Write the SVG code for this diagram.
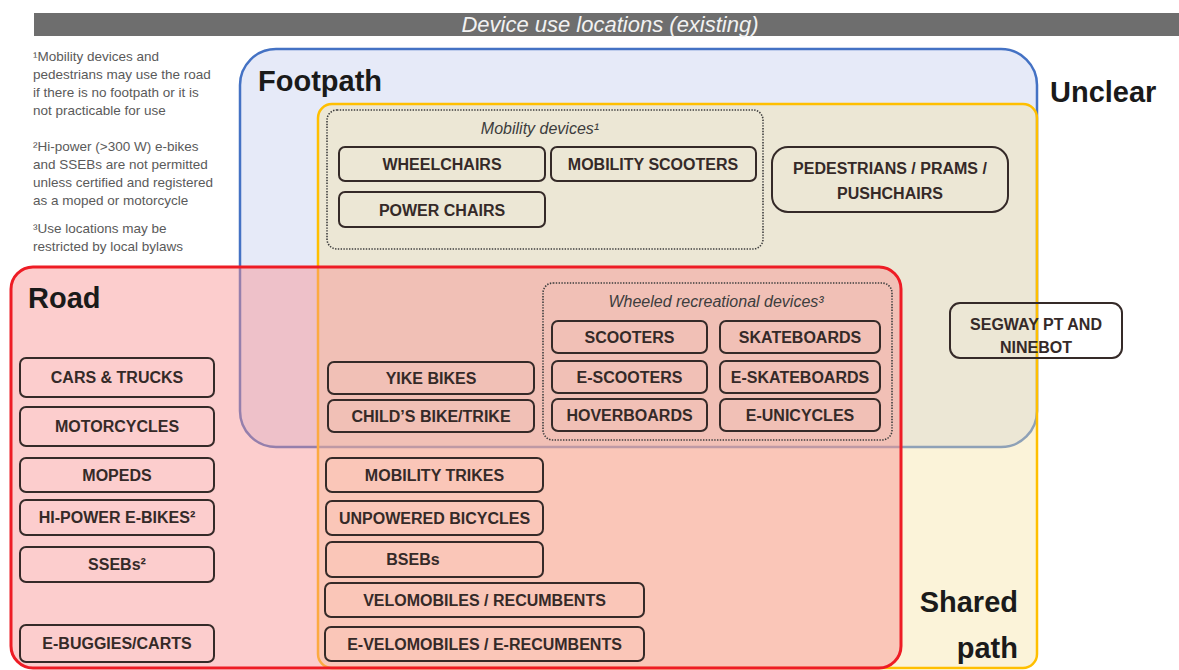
<svg xmlns="http://www.w3.org/2000/svg" width="1179" height="670" viewBox="0 0 1179 670">
<defs>
<style>
.bg{fill:#ffffff}
.hdr{fill:#6e6e6e}
.hdrt{font-family:"Liberation Sans",Arial,sans-serif;font-size:22px;font-style:italic;fill:#f2f2f2;text-anchor:middle}
.note{font-family:"Liberation Sans",Arial,sans-serif;font-size:13.5px;fill:#5a5a5a}
.zone{font-family:"Liberation Sans",Arial,sans-serif;font-size:29px;font-weight:bold;fill:#1a1a1a}
.foot{fill:#c8d0f0;fill-opacity:0.45;stroke:#4472c4;stroke-width:2.5}
.shared{fill:#f6e2a4;fill-opacity:0.42;stroke:#ffbf00;stroke-width:2.5}
.road{fill:#f89090;fill-opacity:0.45;stroke:#ee1c25;stroke-width:3}
.grp{fill:none;stroke:#3d3d3d;stroke-width:1.6;stroke-dasharray:1.4 1.4}
.glab{font-family:"Liberation Sans",Arial,sans-serif;font-size:16px;font-style:italic;fill:#3d3d3d;text-anchor:middle}
.box{fill:none;stroke:#352a28;stroke-width:2}
.lab{font-family:"Liberation Sans",Arial,sans-serif;font-size:16px;font-weight:bold;fill:#352a28;text-anchor:middle}
</style>
</defs>
<rect class="bg" x="0" y="0" width="1179" height="670"/>
<g id="header">
<rect class="hdr" x="34" y="13" width="1145" height="23"/>
<text class="hdrt" x="610" y="32">Device use locations (existing)</text>
</g>
<g id="notes">
<text class="note" x="33" y="61">¹Mobility devices and</text>
<text class="note" x="33" y="79">pedestrians may use the road</text>
<text class="note" x="33" y="97">if there is no footpath or it is</text>
<text class="note" x="33" y="115">not practicable for use</text>
<text class="note" x="33" y="151">²Hi-power (&gt;300 W) e-bikes</text>
<text class="note" x="33" y="169">and SSEBs are not permitted</text>
<text class="note" x="33" y="187">unless certified and registered</text>
<text class="note" x="33" y="205">as a moped or motorcycle</text>
<text class="note" x="33" y="233">³Use locations may be</text>
<text class="note" x="33" y="251">restricted by local bylaws</text>
</g>
<g id="zone-footpath">
<rect class="foot" x="240" y="49" width="797" height="398" rx="36"/>
<text class="zone" x="258" y="91">Footpath</text>
</g>
<g id="zone-shared-path">
<rect class="shared" x="318" y="104" width="719" height="564" rx="14"/>
<text class="zone" x="1018" y="612" text-anchor="end">Shared</text>
<text class="zone" x="1018" y="658" text-anchor="end">path</text>
</g>
<g id="zone-road">
<rect class="road" x="11" y="267" width="890" height="401" rx="22"/>
<text class="zone" x="28" y="308">Road</text>
</g>
<g id="zone-unclear">
<text class="zone" x="1050" y="102">Unclear</text>
</g>
<g id="group-mobility-devices">
<rect class="grp" x="327" y="110" width="436" height="139" rx="10"/>
<text class="glab" x="540" y="134">Mobility devices¹</text>
</g>
<g id="node-wheelchairs"><rect class="box" x="339" y="147" width="206" height="34" rx="6"/><text class="lab" x="442" y="169.5">WHEELCHAIRS</text></g>
<g id="node-mobility-scooters"><rect class="box" x="551" y="147" width="205" height="34" rx="6"/><text class="lab" x="653" y="169.5">MOBILITY SCOOTERS</text></g>
<g id="node-power-chairs"><rect class="box" x="339" y="192" width="206" height="35" rx="6"/><text class="lab" x="442" y="215.5">POWER CHAIRS</text></g>
<g id="node-pedestrians"><rect class="box" x="772" y="147" width="236" height="65" rx="16"/><text class="lab" x="890" y="174">PEDESTRIANS / PRAMS /</text><text class="lab" x="890" y="199">PUSHCHAIRS</text></g>
<g id="node-segway"><rect class="box" x="950" y="303" width="172" height="55" rx="10"/><text class="lab" x="1036" y="330">SEGWAY PT AND</text><text class="lab" x="1036" y="353">NINEBOT</text></g>
<g id="group-wheeled-recreational">
<rect class="grp" x="543" y="283" width="349" height="157" rx="10"/>
<text class="glab" x="716" y="307">Wheeled recreational devices³</text>
</g>
<g id="node-scooters"><rect class="box" x="552" y="321" width="155" height="32" rx="6"/><text class="lab" x="629.5" y="342.5">SCOOTERS</text></g>
<g id="node-skateboards"><rect class="box" x="720" y="321" width="160" height="32" rx="6"/><text class="lab" x="800" y="342.5">SKATEBOARDS</text></g>
<g id="node-e-scooters"><rect class="box" x="552" y="361" width="155" height="32" rx="6"/><text class="lab" x="629.5" y="382.5">E-SCOOTERS</text></g>
<g id="node-e-skateboards"><rect class="box" x="720" y="361" width="160" height="32" rx="6"/><text class="lab" x="800" y="382.5">E-SKATEBOARDS</text></g>
<g id="node-hoverboards"><rect class="box" x="552" y="399" width="155" height="32" rx="6"/><text class="lab" x="629.5" y="420.5">HOVERBOARDS</text></g>
<g id="node-e-unicycles"><rect class="box" x="720" y="399" width="160" height="32" rx="6"/><text class="lab" x="800" y="420.5">E-UNICYCLES</text></g>
<g id="node-yike-bikes"><rect class="box" x="328" y="362" width="206" height="32" rx="6"/><text class="lab" x="431" y="383.5">YIKE BIKES</text></g>
<g id="node-childs-bike"><rect class="box" x="328" y="400" width="206" height="32" rx="6"/><text class="lab" x="431" y="421.5">CHILD’S BIKE/TRIKE</text></g>
<g id="node-mobility-trikes"><rect class="box" x="326" y="458" width="217" height="34" rx="6"/><text class="lab" x="434.5" y="480.5">MOBILITY TRIKES</text></g>
<g id="node-unpowered-bicycles"><rect class="box" x="326" y="501" width="217" height="34" rx="6"/><text class="lab" x="434.5" y="523.5">UNPOWERED BICYCLES</text></g>
<g id="node-bsebs"><rect class="box" x="326" y="542" width="217" height="35" rx="6"/><text class="lab" x="413" y="565">BSEBs</text></g>
<g id="node-velomobiles"><rect class="box" x="325" y="583" width="319" height="34" rx="6"/><text class="lab" x="484.5" y="605.5">VELOMOBILES / RECUMBENTS</text></g>
<g id="node-e-velomobiles"><rect class="box" x="325" y="627" width="319" height="34" rx="6"/><text class="lab" x="484.5" y="649.5">E-VELOMOBILES / E-RECUMBENTS</text></g>
<g id="node-cars-trucks"><rect class="box" x="20" y="358" width="194" height="39" rx="6"/><text class="lab" x="117" y="383">CARS &amp; TRUCKS</text></g>
<g id="node-motorcycles"><rect class="box" x="20" y="407" width="194" height="39" rx="6"/><text class="lab" x="117" y="432">MOTORCYCLES</text></g>
<g id="node-mopeds"><rect class="box" x="20" y="458" width="194" height="34" rx="6"/><text class="lab" x="117" y="480.5">MOPEDS</text></g>
<g id="node-hi-power-e-bikes"><rect class="box" x="20" y="500" width="194" height="35" rx="6"/><text class="lab" x="117" y="523">HI-POWER E-BIKES²</text></g>
<g id="node-ssebs"><rect class="box" x="20" y="547" width="194" height="35" rx="6"/><text class="lab" x="117" y="570">SSEBs²</text></g>
<g id="node-e-buggies"><rect class="box" x="20" y="625" width="194" height="37" rx="6"/><text class="lab" x="117" y="649">E-BUGGIES/CARTS</text></g>
<g id="connectors"/>
</svg>
